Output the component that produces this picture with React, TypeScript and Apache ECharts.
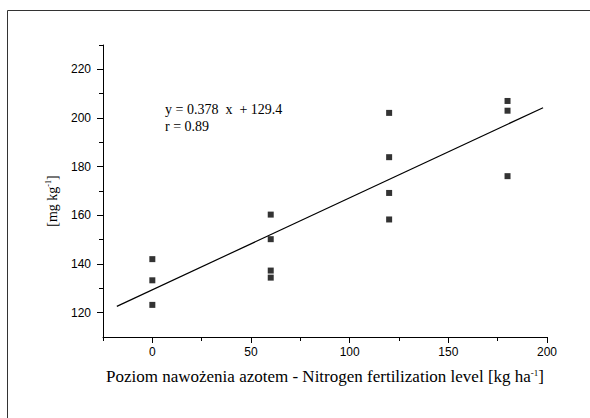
import React, { useEffect, useRef } from "react";
import * as echarts from "echarts";

// Data
const doseX0 = [0, 0, 0];
const yieldX0 = [142, 133.3, 123.2];
const doseX60 = [60, 60, 60, 60];
const yieldX60 = [160.3, 150.2, 137.3, 134.4];
const doseX120 = [120, 120, 120, 120];
const yieldX120 = [202.1, 183.9, 169.2, 158.3];
const doseX180 = [180, 180, 180];
const yieldX180 = [207, 203, 176.1];

const regSlope = 0.378;
const regIntercept = 129.4;
const regLineX = [-18, 198];

const xMajorTicks = [0, 50, 100, 150, 200];
const xMinorTicks = [-25, 25, 75, 125, 175];
const yMajorTicks = [120, 140, 160, 180, 200, 220];
const yMinorTicks = [130, 150, 170, 190, 210, 230];

const X_MIN = -25;
const X_MAX = 200;
const Y_MIN = 110;
const Y_MAX = 230;

const equationLines = ["y = 0.378\u00a0\u00a0x\u00a0\u00a0+ 129.4", "r = 0.89"];

export default function App() {
  const ref = useRef<HTMLDivElement>(null);

  useEffect(() => {
    if (!ref.current) return;
    const chart = echarts.init(ref.current, null, { renderer: "svg" });

    const points: number[][] = [];
    [
      [doseX0, yieldX0],
      [doseX60, yieldX60],
      [doseX120, yieldX120],
      [doseX180, yieldX180],
    ].forEach(([xs, ys]) => xs.forEach((x, i) => points.push([x, ys[i]])));

    const linePts = regLineX.map((x) => [x, regSlope * x + regIntercept]);

    const tickLabel = {
      fontFamily: "Liberation Sans, Arial, sans-serif",
      fontSize: 12,
      color: "#000",
    };

    chart.setOption({
      animation: false,
      backgroundColor: "#fff",
      grid: { left: 103, right: 43, top: 45, bottom: 81 },
      xAxis: [
        {
          type: "value",
          min: X_MIN,
          max: X_MAX,
          position: "bottom",
          axisLine: { show: true, onZero: false, lineStyle: { color: "#000", width: 1 } },
          axisTick: { show: true, inside: false, length: 6, customValues: xMajorTicks, lineStyle: { color: "#000" } },
          axisLabel: { show: true, customValues: xMajorTicks, margin: 9, ...tickLabel },
          splitLine: { show: false },
          name: "Poziom nawożenia azotem - Nitrogen fertilization level [kg ha{s|-1}]",
          nameLocation: "middle",
          nameGap: 31,
          nameTextStyle: {
            fontFamily: "Liberation Serif, Times New Roman, serif",
            fontSize: 17,
            color: "#000",
            rich: {
              s: { fontFamily: "Liberation Serif, serif", fontSize: 9, verticalAlign: "top", color: "#000" },
            },
          },
        },
        {
          type: "value",
          min: X_MIN,
          max: X_MAX,
          position: "bottom",
          axisLine: { show: false, onZero: false },
          axisTick: { show: true, inside: false, length: 4, customValues: xMinorTicks, lineStyle: { color: "#000" } },
          axisLabel: { show: false },
          splitLine: { show: false },
        },
      ],
      yAxis: [
        {
          type: "value",
          min: Y_MIN,
          max: Y_MAX,
          position: "left",
          axisLine: { show: true, onZero: false, lineStyle: { color: "#000", width: 1 } },
          axisTick: { show: true, inside: false, length: 6, customValues: yMajorTicks, lineStyle: { color: "#000" } },
          axisLabel: { show: true, customValues: yMajorTicks, margin: 12, ...tickLabel },
          splitLine: { show: false },
        },
        {
          type: "value",
          min: Y_MIN,
          max: Y_MAX,
          position: "left",
          axisLine: { show: false, onZero: false },
          axisTick: { show: true, inside: false, length: 4, customValues: yMinorTicks, lineStyle: { color: "#000" } },
          axisLabel: { show: false },
          splitLine: { show: false },
        },
      ],
      graphic: [
        {
          type: "rect",
          shape: { x: 7.5, y: 10.5, width: 600, height: 420 },
          style: { fill: "none", stroke: "#333", lineWidth: 1 },
          silent: true,
          z: -1,
        },
        {
          type: "text",
          x: 52,
          y: 201,
          rotation: Math.PI / 2,
          style: {
            text: "{a|[mg kg}{s|-1}{a|]}",
            align: "center",
            verticalAlign: "middle",
            rich: {
              a: { fontFamily: "Liberation Serif, serif", fontSize: 14, color: "#000", lineHeight: 16 },
              s: { fontFamily: "Liberation Serif, serif", fontSize: 8, color: "#000", verticalAlign: "top" },
            },
          },
        },
        {
          type: "text",
          left: 165,
          top: 101,
          style: {
            text: equationLines.join("\n"),
            fontFamily: "Liberation Serif, serif",
            fontSize: 14,
            lineHeight: 17,
            fill: "#000",
          },
        },
      ],
      series: [
        {
          type: "line",
          xAxisIndex: 0,
          yAxisIndex: 0,
          data: linePts,
          showSymbol: false,
          symbol: "none",
          lineStyle: { color: "#000", width: 1.2 },
          silent: true,
        },
        {
          type: "scatter",
          xAxisIndex: 0,
          yAxisIndex: 0,
          data: points,
          symbol: "rect",
          symbolSize: 6,
          itemStyle: { color: "#000" },
        },
      ],
    });

    return () => chart.dispose();
  }, []);

  return (
    <div
      ref={ref}
      style={{ position: "fixed", left: 0, top: 0, width: 590, height: 418, background: "#fff" }}
    />
  );
}
